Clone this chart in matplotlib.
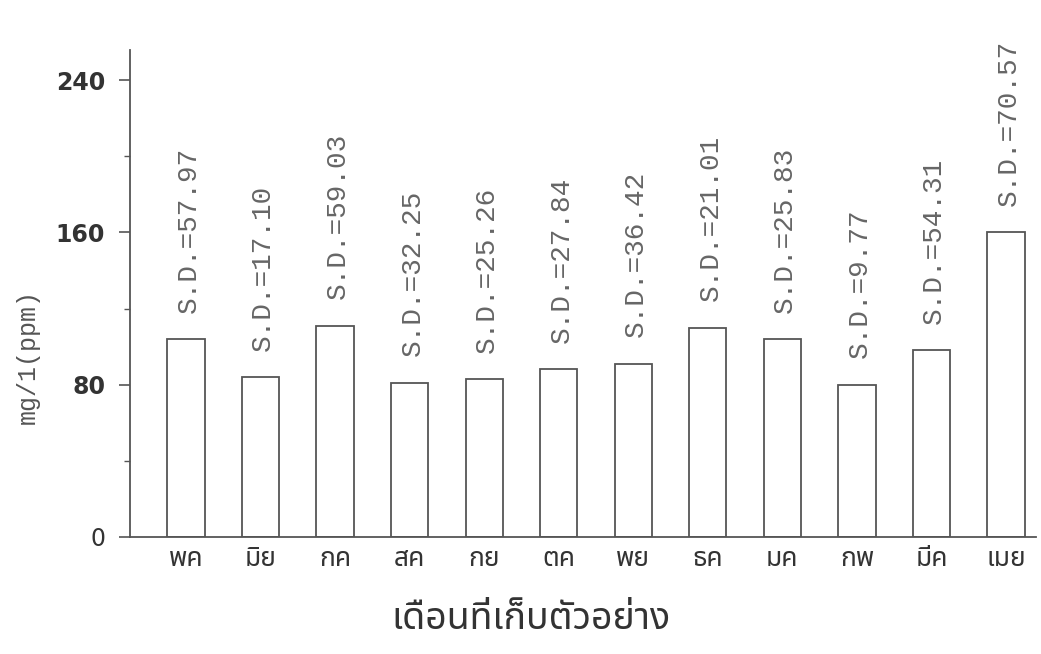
import matplotlib
matplotlib.use("Agg")
import matplotlib.pyplot as plt
from matplotlib import font_manager
from matplotlib.ticker import MultipleLocator

# ---- data ----
months = ["พค", "มิย", "กค", "สค", "กย", "ตค", "พย", "ธค", "มค", "กพ", "มีค", "เมย"]
means = [104, 84, 111, 81, 83, 88, 91, 110, 104, 80, 98, 160]
sd_values = ["57.97", "17.10", "59.03", "32.25", "25.26", "27.84",
             "36.42", "21.01", "25.83", "9.77", "54.31", "70.57"]
yticks = [0, 80, 160, 240]
ylabel = "mg/1(ppm)"
xlabel = "เดือนที่เก็บตัวอย่าง"


def find_thai_font():
    try:
        from fontTools.ttLib import TTFont
    except Exception:
        return None
    found = []
    for f in font_manager.fontManager.ttflist:
        try:
            tt = TTFont(f.fname, fontNumber=0, lazy=True)
            cmap = tt.getBestCmap()
            if cmap and 0x0E01 in cmap and 0x0E40 in cmap and 0x0E35 in cmap:
                found.append(f.name)
        except Exception:
            pass
    if not found:
        return None
    for pref in ["Noto Sans Thai", "Noto Sans Thai Looped", "Loma", "Garuda", "Kinnari", "Norasi", "Tlwg Typo"]:
        if pref in found:
            return pref
    return sorted(set(found))[0]


thai = find_thai_font()
thai_family = [thai, "DejaVu Sans"] if thai else ["DejaVu Sans"]
mono = ["Liberation Mono", "DejaVu Sans Mono"]

fig = plt.figure(figsize=(10.41, 6.54), dpi=100)
ax = fig.add_axes([0.125, 0.179, 0.87, 0.745])

x = list(range(len(months)))
bars = ax.bar(x, means, width=0.5, color="white", edgecolor="#555555", linewidth=1.3, zorder=2)

for b, sd in zip(bars, sd_values):
    ax.annotate("S.D.=" + sd, xy=(b.get_x() + b.get_width() / 2, b.get_height()),
                xytext=(2, 19), textcoords="offset points", rotation=90,
                ha="center", va="bottom", family=mono, fontsize=20, color="#666666")

ax.set_xlim(-0.75, 11.4)
ax.set_ylim(0, 256)
ax.set_xticks(x)
ax.set_xticklabels(months, family=thai_family, fontsize=19, color="#333333")
ax.tick_params(axis="x", length=0, pad=6)
ax.set_yticks(yticks)
ax.yaxis.set_minor_locator(MultipleLocator(40))
ax.tick_params(axis="y", which="major", length=8, width=1.2, direction="out", color="#555555", pad=10)
ax.tick_params(axis="y", which="minor", length=4, width=1.0, direction="out", color="#555555")
labels = ax.set_yticklabels([str(v) for v in yticks], fontsize=17, color="#333333")
for lab, v in zip(labels, yticks):
    lab.set_fontweight("normal" if v == 0 else "bold")

for s in ["top", "right"]:
    ax.spines[s].set_visible(False)
for s in ["left", "bottom"]:
    ax.spines[s].set_color("#555555")
    ax.spines[s].set_linewidth(1.3)

ax.set_ylabel(ylabel, family=mono, fontsize=18, color="#555555")
ax.yaxis.set_label_coords(-0.10, 0.37)
ax.set_xlabel(xlabel, family=thai_family, fontsize=27, color="#333333")
ax.xaxis.set_label_coords(0.443, -0.13)

fig.savefig("out.png", dpi=100)
